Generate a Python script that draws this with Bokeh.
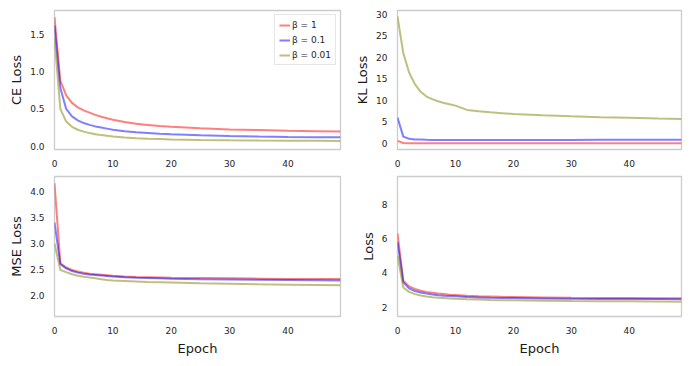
from bokeh.plotting import figure
from bokeh.layouts import gridplot
from bokeh.models import Range1d, FixedTicker, PrintfTickFormatter, Legend, LegendItem
from bokeh.embed import file_html
from bokeh.resources import INLINE

epochs = [0, 1, 2, 3, 4, 5, 6, 7, 8, 9, 10, 12, 14, 16, 18, 20, 25, 30, 35, 40, 45, 49]

ce_b1 = [1.73, 0.88, 0.68, 0.58, 0.52, 0.48, 0.45, 0.42, 0.395, 0.375, 0.355, 0.325, 0.30, 0.285, 0.27, 0.26, 0.24, 0.225, 0.215, 0.205, 0.20, 0.195]
ce_b01 = [1.62, 0.78, 0.50, 0.40, 0.345, 0.31, 0.285, 0.265, 0.25, 0.235, 0.22, 0.20, 0.185, 0.175, 0.165, 0.158, 0.145, 0.135, 0.128, 0.123, 0.12, 0.118]
ce_b001 = [1.45, 0.50, 0.33, 0.26, 0.22, 0.195, 0.175, 0.16, 0.148, 0.138, 0.13, 0.117, 0.107, 0.10, 0.095, 0.09, 0.083, 0.078, 0.075, 0.073, 0.071, 0.07]

kl_b1 = [0.6, 0.1, 0.06, 0.05, 0.05, 0.05, 0.05, 0.05, 0.05, 0.05, 0.05, 0.05, 0.05, 0.05, 0.05, 0.05, 0.05, 0.05, 0.05, 0.05, 0.05, 0.05]
kl_b01 = [6.0, 1.6, 1.1, 0.95, 0.9, 0.85, 0.82, 0.8, 0.8, 0.78, 0.78, 0.78, 0.78, 0.79, 0.8, 0.8, 0.82, 0.83, 0.84, 0.85, 0.86, 0.87]
kl_b001 = [29.5, 21.0, 16.5, 13.8, 12.0, 10.9, 10.3, 9.8, 9.4, 9.1, 8.8, 7.8, 7.5, 7.25, 7.05, 6.85, 6.55, 6.3, 6.1, 5.95, 5.8, 5.7]

mse_b1 = [4.15, 2.62, 2.54, 2.49, 2.46, 2.44, 2.42, 2.41, 2.40, 2.39, 2.38, 2.365, 2.355, 2.35, 2.345, 2.34, 2.335, 2.33, 2.325, 2.32, 2.32, 2.32]
mse_b01 = [3.4, 2.6, 2.52, 2.47, 2.44, 2.42, 2.405, 2.395, 2.385, 2.375, 2.365, 2.35, 2.34, 2.335, 2.33, 2.325, 2.315, 2.31, 2.305, 2.30, 2.295, 2.29]
mse_b001 = [3.0, 2.49, 2.45, 2.41, 2.38, 2.36, 2.345, 2.33, 2.315, 2.30, 2.29, 2.28, 2.27, 2.26, 2.255, 2.25, 2.235, 2.225, 2.215, 2.21, 2.205, 2.20]

loss_b1 = [6.3, 3.55, 3.22, 3.07, 2.97, 2.9, 2.85, 2.8, 2.77, 2.74, 2.72, 2.68, 2.65, 2.63, 2.61, 2.6, 2.58, 2.56, 2.55, 2.54, 2.53, 2.53]
loss_b01 = [5.8, 3.45, 3.1, 2.95, 2.86, 2.8, 2.75, 2.71, 2.68, 2.66, 2.64, 2.6, 2.58, 2.56, 2.55, 2.54, 2.52, 2.5, 2.49, 2.48, 2.48, 2.47]
loss_b001 = [5.0, 3.15, 2.9, 2.77, 2.69, 2.63, 2.59, 2.56, 2.54, 2.52, 2.5, 2.47, 2.45, 2.43, 2.42, 2.41, 2.39, 2.37, 2.36, 2.35, 2.34, 2.33]

labels = ["β = 1", "β = 0.1", "β = 0.01"]
colors = ["red", "blue", "olive"]

x_ticks = [0, 10, 20, 30, 40]
ce_ticks = [0.0, 0.5, 1.0, 1.5]
kl_ticks = [0, 5, 10, 15, 20, 25, 30]
mse_ticks = [2.0, 2.5, 3.0, 3.5, 4.0]
loss_ticks = [2, 4, 6, 8]

FONT = "DejaVu Sans"


def make_panel(series, ylabel, yr, yticks, yfmt, width, height, left, right, top, bottom, xlabel=None, legend=False):
    p = figure(width=width, height=height, output_backend="svg", toolbar_location=None,
               x_range=Range1d(0, 49), y_range=Range1d(*yr),
               min_border_left=left, min_border_right=right,
               min_border_top=top, min_border_bottom=bottom)
    p.background_fill_color = "white"
    p.border_fill_color = "white"
    p.outline_line_color = "#cccccc"
    p.outline_line_width = 1.3
    p.grid.visible = False
    items = []
    for ys, c, lab in zip(series, colors, labels):
        r = p.line(epochs, ys, line_color=c, line_alpha=0.5, line_width=2)
        items.append(LegendItem(label=lab, renderers=[r]))
    for ax in (p.xaxis[0], p.yaxis[0]):
        ax.axis_line_color = None
        ax.major_tick_out = 0
        ax.major_tick_in = 0
        ax.minor_tick_line_color = None
        ax.major_label_text_font = FONT
        ax.major_label_text_font_size = "9px"
        ax.major_label_text_color = "#262626"
        ax.major_label_standoff = 10
        ax.axis_label_text_font = FONT
        ax.axis_label_text_font_size = "13px"
        ax.axis_label_text_font_style = "normal"
        ax.axis_label_text_color = "#1a1a1a"
        ax.axis_label_standoff = 3
    p.xaxis.ticker = FixedTicker(ticks=x_ticks)
    p.yaxis.ticker = FixedTicker(ticks=yticks)
    p.yaxis.formatter = PrintfTickFormatter(format=yfmt)
    p.yaxis.axis_label = ylabel
    if xlabel:
        p.xaxis.axis_label = xlabel
        p.xaxis.axis_label_standoff = 4
    if legend:
        lg = Legend(items=items, location="top_right")
        lg.label_text_font = FONT
        lg.label_text_font_size = "9px"
        lg.label_text_color = "#262626"
        lg.border_line_color = "#cccccc"
        lg.border_line_width = 1
        lg.background_fill_alpha = 0.9
        lg.glyph_width = 11
        lg.glyph_height = 10
        lg.label_height = 11
        lg.label_standoff = 2
        lg.spacing = 4
        lg.padding = 4
        lg.margin = 4
        p.add_layout(lg)
    return p


p1 = make_panel([ce_b1, ce_b01, ce_b001], "CE Loss", (-0.045, 1.82), ce_ticks, "%.1f",
                351, 171, 54, 11, 10, 22, legend=True)
p2 = make_panel([kl_b1, kl_b01, kl_b001], "KL Loss", (-1.4, 30.9), kl_ticks, "%d",
                333, 171, 46, 3, 10, 22)
p3 = make_panel([mse_b1, mse_b01, mse_b001], "MSE Loss", (1.6, 4.28), mse_ticks, "%.1f",
                351, 187, 54, 11, 5, 42, xlabel="Epoch")
p4 = make_panel([loss_b1, loss_b01, loss_b001], "Loss", (1.47, 9.6), loss_ticks, "%d",
                333, 187, 46, 3, 5, 42, xlabel="Epoch")

grid = gridplot([[p1, p2], [p3, p4]], toolbar_location=None)

open("out.html", "w").write(file_html(grid, INLINE))
